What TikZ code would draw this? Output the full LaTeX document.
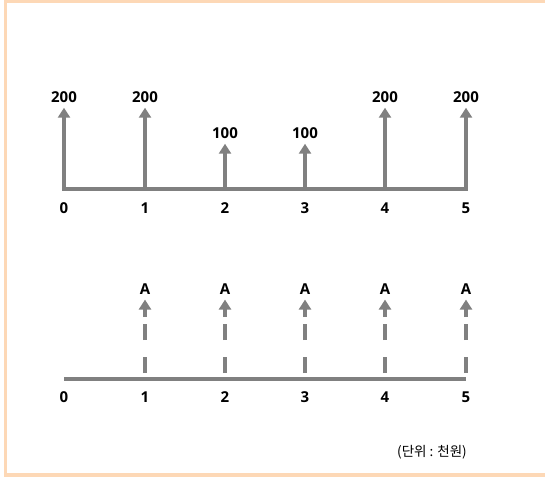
\documentclass[tikz,border=0pt]{standalone}
\usepackage{fontspec}
\setmainfont{Open Sans}
\newfontfamily\krfont{Noto Sans CJK KR}
\usetikzlibrary{arrows.meta}

\definecolor{framepeach}{HTML}{FDD8B6}
\definecolor{flowgray}{HTML}{808080}

\tikzset{
  axisline/.style={flowgray, line width=4pt},
  cashflow/.style={flowgray, line width=4pt, -{Triangle[width=12pt,length=10pt]}, shorten >=5pt},
  annuity/.style={cashflow, dash pattern=on 16pt off 17pt on 16pt off 7pt, shorten <=6pt},
  amount/.style={font=\fontsize{15}{15}\selectfont\bfseries, inner sep=0pt},
  period/.style={amount}
}

\begin{document}
\begin{tikzpicture}[x=1pt,y=-1pt]
\useasboundingbox (0,0) rectangle (545,477);

% frame, open on the right
\draw[framepeach, line width=3.5pt] (545,1.7) -- (5.6,1.7) -- (5.6,475.2) -- (545,475.2);

% both time lines
\foreach \i/\xx in {0/64,1/145,2/225,3/305,4/385,5/466}{
  \coordinate (u\i) at (\xx,189);
  \node[period] (up\i) at (\xx,208) {\i};
  \coordinate (d\i) at (\xx,379);
  \node[period] (dp\i) at (\xx,397) {\i};
}
\draw[axisline, line cap=rect] (u0) -- (u5);
\draw[axisline] (d0) -- (d5);

% cash flows (upper)
\foreach \i/\amt/\yy in {0/200/97,1/200/97,2/100/133,3/100/133,4/200/97,5/200/97}{
  \path (u\i) ++(0,\yy-189) node[amount] (ua\i) {\amt};
  \draw[cashflow] (u\i) -- (ua\i.south);
}

% annuity A (lower)
\foreach \i in {1,...,5}{
  \path (d\i) ++(0,-90) node[amount] (da\i) {A};
  \draw[annuity] (d\i) -- (da\i.south);
}

% unit
\node[font=\fontsize{13.5}{13.5}\selectfont\krfont] (unit) at (432,452) {(단위 : 천원)};
\end{tikzpicture}
\end{document}
